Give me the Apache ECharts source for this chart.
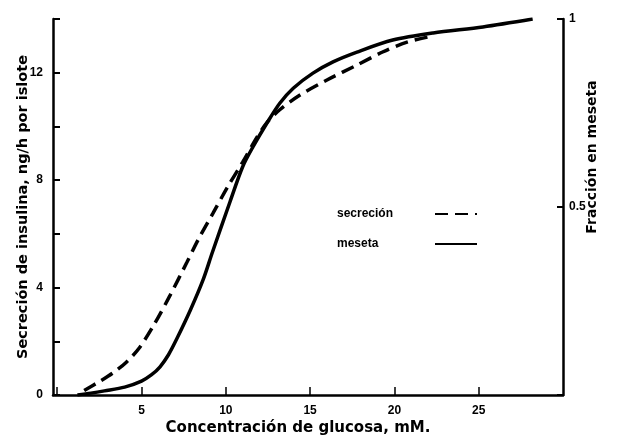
<!DOCTYPE html>
<html>
<head>
<meta charset="utf-8">
<script src="https://cdn.jsdelivr.net/npm/echarts@6/dist/echarts.min.js"></script>
<style>
html,body{margin:0;padding:0;background:#fff;}
#c{width:619px;height:448px;}
</style>
</head>
<body>
<div id="c"></div>
<script>
// glucose (mM) and insulin secretion (ng/h per islet) — dashed curve
var secrecionX = [1.6, 2.5, 3.3, 4.1, 4.9, 5.8, 6.7, 7.7, 8.35, 9.25, 10.1, 11.0, 11.85, 12.45, 13.2, 14.4, 16.0, 17.8, 19.3, 20.75, 22.3];
var secrecionY = [0.17, 0.5, 0.82, 1.22, 1.78, 2.68, 3.72, 4.95, 5.77, 6.78, 7.74, 8.67, 9.6, 10.15, 10.62, 11.17, 11.73, 12.29, 12.77, 13.14, 13.37];
// glucose (mM) and fraction in plateau — solid curve
var mesetaX = [1.2, 2.0, 2.8, 4.0, 5.0, 5.6, 6.1, 6.6, 7.1, 7.9, 8.65, 9.2, 10.25, 11.0, 11.6, 12.45, 13.2, 14.0, 15.17, 16.36, 17.78, 19.9, 22.3, 25.25, 28.2];
var mesetaY = [0.0, 0.005, 0.011, 0.021, 0.037, 0.054, 0.075, 0.107, 0.15, 0.226, 0.306, 0.379, 0.514, 0.607, 0.659, 0.724, 0.776, 0.816, 0.856, 0.886, 0.912, 0.944, 0.963, 0.979, 1.0];
var xTickLabels = ['5', '10', '15', '20', '25'];
var leftTickLabels = ['0', '4', '8', '12'];
var rightTickLabels = ['0.5', '1'];

function pairs(xs, ys) { return xs.map(function (x, i) { return [x, ys[i]]; }); }

var font = 'Liberation Sans, Arial, sans-serif';
var titleFont = 'DejaVu Sans, Liberation Sans, sans-serif';
var chart = echarts.init(document.getElementById('c'));
chart.setOption({
  animation: false,
  backgroundColor: '#fff',
  textStyle: { fontFamily: font, color: '#000' },
  grid: { left: 53, right: 56, top: 19, bottom: 53, containLabel: false, outerBoundsMode: 'none' },
  legend: {
    orient: 'vertical',
    left: 332, top: 203,
    align: 'right',
    itemWidth: 42, itemHeight: 10, itemGap: 18,
    itemStyle: { opacity: 0 },
    formatter: function (name) { return '{t|' + name + '}'; },
    textStyle: {
      fontFamily: font, fontWeight: 'bold', fontSize: 12, color: '#000',
      rich: { t: { width: 93, align: 'left', fontFamily: font, fontWeight: 'bold', fontSize: 12, color: '#000' } }
    },
    data: ['secreción', 'meseta']
  },
  xAxis: {
    type: 'value', min: -0.25, max: 30, splitNumber: 6,
    name: 'Concentración de glucosa, mM.',
    nameLocation: 'middle', nameGap: 26, nameMoveOverlap: false,
    nameTextStyle: { fontFamily: titleFont, fontWeight: 'bold', fontSize: 15, color: '#000', padding: [0, 20, 0, 0] },
    axisLine: { onZero: false, lineStyle: { color: '#000', width: 2.5 } },
    axisTick: { inside: true, length: 8, lineStyle: { color: '#000', width: 1.5 } },
    axisLabel: {
      margin: 10, fontWeight: 'bold', fontSize: 12, color: '#000',
      showMinLabel: false, showMaxLabel: false,
      formatter: function (v) { return xTickLabels.indexOf(String(v)) >= 0 ? String(v) : ''; }
    },
    splitLine: { show: false }
  },
  yAxis: [{
    type: 'value', min: 0, max: 14, interval: 2, position: 'left',
    name: 'Secreción de insulina, ng/h por islote',
    nameLocation: 'middle', nameGap: 22, nameRotate: 90, nameMoveOverlap: false,
    nameTextStyle: { fontFamily: titleFont, fontWeight: 'bold', fontSize: 14.5, color: '#000' },
    axisLine: { show: true, onZero: false, lineStyle: { color: '#000', width: 2.5 } },
    axisTick: { show: true, inside: true, length: 7, lineStyle: { color: '#000', width: 2 } },
    axisLabel: {
      margin: 10, fontWeight: 'bold', fontSize: 12, color: '#000',
      formatter: function (v) { return leftTickLabels.indexOf(String(v)) >= 0 ? String(v) : ''; }
    },
    splitLine: { show: false }
  }, {
    type: 'value', min: 0, max: 1, interval: 0.5, position: 'right',
    axisLine: { show: true, onZero: false, lineStyle: { color: '#000', width: 2.5 } },
    axisTick: { show: true, inside: true, length: 6, lineStyle: { color: '#000', width: 2 } },
    axisLabel: {
      margin: 6, fontWeight: 'bold', fontSize: 12, color: '#000',
      formatter: function (v) { return rightTickLabels.indexOf(String(v)) >= 0 ? String(v) : ''; }
    },
    splitLine: { show: false }
  }],
  graphic: [{
    type: 'text', x: 592, y: 157, rotation: Math.PI / 2,
    style: { text: 'Fracción en meseta', fontFamily: titleFont, fontWeight: 'bold', fontSize: 14, fill: '#000', align: 'center', verticalAlign: 'middle' }
  }],
  series: [{
    name: 'secreción', type: 'line', yAxisIndex: 0, smooth: 0.3,
    symbol: 'none', showSymbol: false,
    lineStyle: { color: '#000', width: 3.5, type: [13, 7] },
    itemStyle: { color: '#000' },
    data: pairs(secrecionX, secrecionY)
  }, {
    name: 'meseta', type: 'line', yAxisIndex: 1, smooth: 0.3,
    symbol: 'none', showSymbol: false,
    lineStyle: { color: '#000', width: 3.5 },
    itemStyle: { color: '#000' },
    data: pairs(mesetaX, mesetaY)
  }]
});
</script>
</body>
</html>
